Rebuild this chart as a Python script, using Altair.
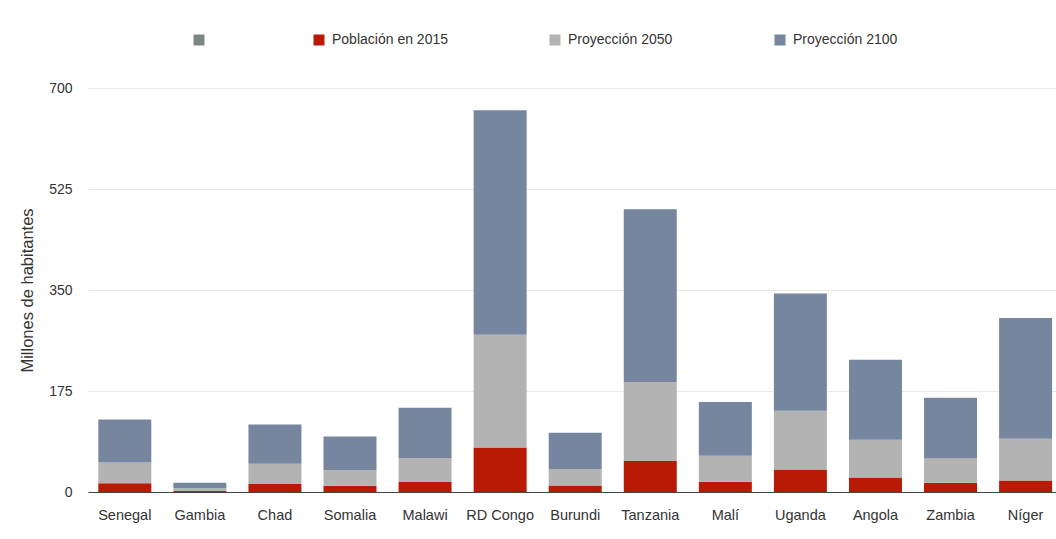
import altair as alt
import pandas as pd

# Population by country (millions): 2015 and UN projections for 2050 and 2100
countries = ["Senegal", "Gambia", "Chad", "Somalia", "Malawi", "RD Congo", "Burundi",
             "Tanzania", "Malí", "Uganda", "Angola", "Zambia", "Níger"]
pop_2015 = [15.1, 2.0, 14.0, 10.8, 17.2, 77.3, 11.2, 53.5, 17.6, 39.0, 25.0, 16.2, 19.9]
proj_2050 = [36.2, 4.6, 35.1, 27.0, 41.5, 195.3, 28.7, 137.1, 45.4, 101.9, 65.5, 42.0, 72.2]
proj_2100 = [74.5, 9.4, 68.0, 58.3, 87.1, 388.7, 62.7, 299.1, 92.9, 202.9, 138.7, 105.0, 209.3]

series = ["Población en 2015", "Proyección 2050", "Proyección 2100"]
legend_domain = [""] + series
legend_colors = ["#7b8781", "#b81a06", "#b3b3b3", "#76869f"]
y_ticks = [0, 175, 350, 525, 700]

rows = []
for i, c in enumerate(countries):
    for k, (name, vals) in enumerate(zip(series, [pop_2015, proj_2050, proj_2100])):
        rows.append({"pais": c, "serie": name, "valor": vals[i], "orden": k})
df = pd.DataFrame(rows)

FONT = "Liberation Sans"

chart = alt.Chart(df).mark_bar().encode(
    x=alt.X(
        "pais:N",
        sort=countries,
        title=None,
        scale=alt.Scale(paddingInner=0.294, paddingOuter=0.0946, align=0.725),
        axis=alt.Axis(
            labelAngle=0, ticks=False, labelPadding=16, labelFontSize=14.5,
            labelColor="#333333", labelFont=FONT, domainColor="#444444",
            domainWidth=1.2, grid=False,
        ),
    ),
    y=alt.Y(
        "valor:Q",
        stack="zero",
        title="Millones de habitantes",
        scale=alt.Scale(domain=[0, 700], nice=False),
        axis=alt.Axis(
            values=y_ticks, ticks=False, domain=False, labelPadding=16,
            labelFontSize=14, labelColor="#333333", labelFont=FONT,
            gridColor="#e9e9e9", gridWidth=1,
            titleFont=FONT, titleFontSize=16.5, titleFontWeight="normal",
            titleColor="#333333", titlePadding=13,
        ),
    ),
    color=alt.Color(
        "serie:N",
        scale=alt.Scale(domain=legend_domain, range=legend_colors),
        legend=alt.Legend(
            title=None, orient="none", direction="horizontal", columns=4,
            legendX=104, legendY=-55, symbolType="square", symbolSize=121,
            symbolStrokeWidth=0, labelFont=FONT, labelFontSize=14,
            labelColor="#333333", columnPadding=100, labelOffset=6, padding=0,
            labelLimit=300,
        ),
    ),
    order=alt.Order("orden:Q", sort="ascending"),
).properties(
    width=968,
    height=404,
    background="#ffffff",
    autosize=alt.AutoSizeParams(type="none"),
    padding={"left": 88, "top": 88, "right": 0, "bottom": 47},
).configure_view(stroke=None)

chart.save("out.html", embed_options={"renderer": "svg", "actions": False})
